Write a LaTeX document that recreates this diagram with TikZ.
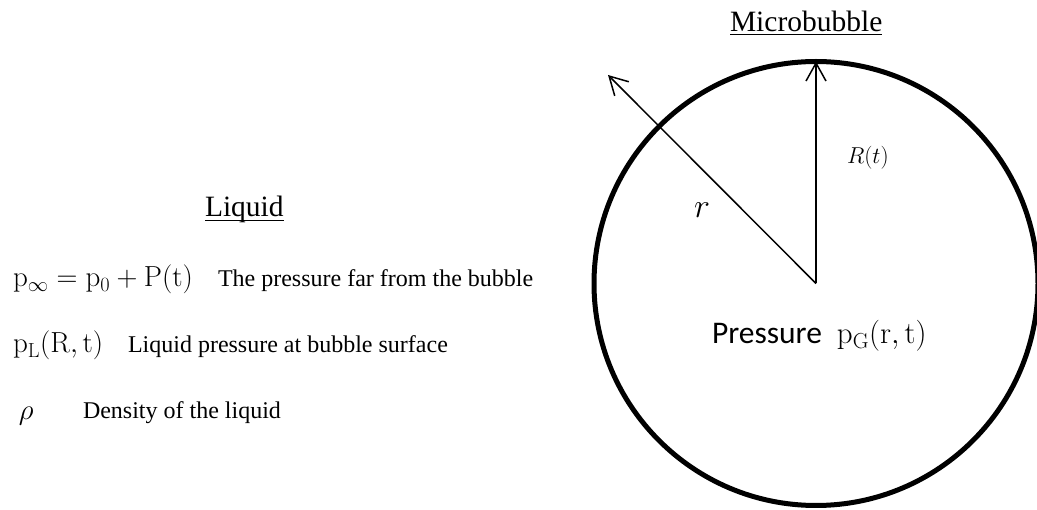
\RequirePackage{fix-cm}
\documentclass[tikz,border=0pt]{standalone}
\usepackage[no-math]{fontspec}
\setmainfont{Liberation Serif}
\newfontfamily\calibri{Carlito}
\usetikzlibrary{arrows.meta}
\begin{document}
\begin{tikzpicture}[x=1pt,y=-1pt,
  lbl/.style={inner sep=0pt,outer sep=0pt,anchor=base west},
  title/.style={lbl,font=\fontsize{29.5}{32}\selectfont},
  desc/.style={lbl,font=\fontsize{24}{26}\selectfont},
  sym/.style={lbl,font=\fontsize{29}{31}\selectfont},
  arr/.style={line width=1.5pt,-{Straight Barb[length=18pt,width=20pt]}},
  uline/.style={line width=1.8pt}]
\useasboundingbox (0,0) rectangle (1037,510);
% bubble
\node[circle,draw,line width=5pt,minimum size=444pt,inner sep=0pt,outer sep=0pt] (bub) at (816,283.5) {};
\coordinate (rtip) at (608,75);
\draw[arr] (bub.center) -- (bub.north);
\draw[arr] (bub.center) -- (rtip);
% titles
\node[title] (micro) at (730,32) {Microbubble};
\draw[uline] ([yshift=-2.5pt]micro.base west) -- ([yshift=-2.5pt]micro.base east);
\node[title] (liq) at (205,217) {Liquid};
\draw[uline] ([yshift=-3.5pt]liq.base west) -- ([yshift=-3.5pt]liq.base east);
% bubble labels
\node[lbl,font=\fontsize{23}{25}\selectfont] (Rt) at (847,164) {$R(t)$};
\node[lbl,font=\fontsize{34}{36}\selectfont] (rr) at (694,218) {$r$};
\node[lbl] (pg) at (712,344) {\fontsize{31.5}{33}\selectfont\calibri Pressure\hspace{15pt}\fontsize{31}{33}\selectfont$\mathrm{p}_{\mathrm{G}}(\mathrm{r},\mathrm{t})$};
% liquid list
\node[sym] (s1) at (13,287) {$\mathrm{p}_{\infty}=\mathrm{p}_{0}+\mathrm{P}(\mathrm{t})$};
\node[desc] (d1) at (218,287) {The pressure far from the bubble};
\node[sym] (s2) at (13,353) {$\mathrm{p}_{\mathrm{L}}(\mathrm{R},\mathrm{t})$};
\node[desc] (d2) at (128,353) {Liquid pressure at bubble surface};
\node[sym] (s3) at (19,420) {$\rho$};
\node[desc] (d3) at (83,419) {Density of the liquid};
\end{tikzpicture}
\end{document}
